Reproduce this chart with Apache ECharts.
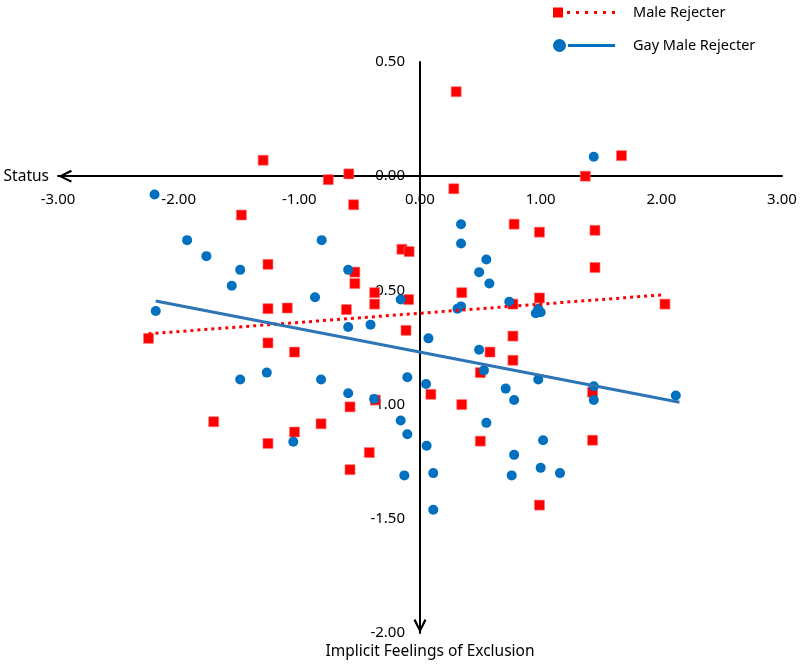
<!DOCTYPE html>
<html>
<head>
<meta charset="utf-8">
<script src="https://cdn.jsdelivr.net/npm/echarts@6/dist/echarts.min.js"></script>
<style>html,body{margin:0;padding:0;background:#fff}#c{width:800px;height:668px}</style>
</head>
<body>
<div id="c"></div>
<script>
// Male Rejecter points [x, y]
const maleRejecter = [
  [0.30,0.37],[-1.30,0.07],[1.67,0.09],[-0.59,0.01],[-0.76,-0.015],[1.37,0.00],[0.28,-0.055],[-0.55,-0.125],[-1.48,-0.17],
  [-1.26,-0.386],[-0.15,-0.32],[-0.09,-0.33],[-0.54,-0.42],[-0.54,-0.47],[-0.376,-0.51],[-0.376,-0.56],[-0.094,-0.54],
  [-1.26,-0.58],[-1.10,-0.577],[-0.61,-0.584],[-2.25,-0.71],[-0.116,-0.675],[-1.26,-0.73],[-1.04,-0.77],
  [0.78,-0.21],[0.99,-0.245],[1.45,-0.237],[1.45,-0.40],[0.346,-0.51],[0.99,-0.533],[0.77,-0.56],[2.03,-0.56],
  [0.77,-0.70],[0.58,-0.77],[0.77,-0.806],[0.50,-0.86],
  [-0.37,-0.98],[-0.58,-1.01],[-1.71,-1.075],[-0.82,-1.084],[-1.04,-1.12],[-1.26,-1.17],[-0.42,-1.21],[-0.58,-1.285],[0.09,-0.955],
  [0.346,-1.00],[1.43,-0.946],[0.50,-1.16],[1.43,-1.156],[0.99,-1.44]
];
// Gay Male Rejecter points [x, y]
const gayMaleRejecter = [
  [1.44,0.085],[-2.20,-0.08],
  [-1.93,-0.28],[-1.77,-0.35],[-1.49,-0.41],[-1.56,-0.48],[-0.815,-0.28],[-0.595,-0.41],[-0.87,-0.53],[-2.19,-0.59],
  [-0.595,-0.66],[-0.41,-0.65],[-0.16,-0.54],[0.07,-0.71],[-1.27,-0.86],[-1.49,-0.89],[-0.82,-0.89],[-0.105,-0.88],
  [0.34,-0.21],[0.34,-0.295],[0.55,-0.365],[0.49,-0.42],[0.575,-0.47],[0.74,-0.55],[0.34,-0.57],[0.31,-0.58],
  [0.98,-0.58],[0.96,-0.60],[1.00,-0.596],[0.49,-0.76],[0.53,-0.85],[0.98,-0.89],
  [-0.595,-0.95],[0.05,-0.91],[-0.38,-0.975],[-0.16,-1.07],[-0.105,-1.13],[0.055,-1.18],[-1.05,-1.163],[-0.13,-1.31],
  [0.71,-0.93],[0.78,-0.98],[1.44,-0.92],[1.44,-0.98],[2.12,-0.96],[0.55,-1.08],[1.02,-1.156],[0.78,-1.22],
  [0.11,-1.30],[1.00,-1.277],[0.76,-1.31],[1.16,-1.30],[0.11,-1.46]
];
// Linear trend line endpoints
const maleTrend = [[-2.25,-0.69],[2.00,-0.52]];
const gayTrend = [[-2.19,-0.546],[2.15,-0.99]];

const xTicks = {min:-3, max:3, interval:1};
const yTicks = {min:-2, max:0.5, interval:0.5};

const FONT = 'Noto Sans';
const W = 800, H = 668;
const grid = {left:58, right:18, top:62, bottom:35};
const plotW = W - grid.left - grid.right;
const plotH = H - grid.top - grid.bottom;
// move each axis so that it crosses the other at 0 (labels travel with the axis)
const xAxisOffset = -((0 - yTicks.min) / (yTicks.max - yTicks.min)) * plotH;
const yAxisOffset = -((0 - xTicks.min) / (xTicks.max - xTicks.min)) * plotW;

const chevron = 'path://M0,10 L5,0 L10,10 L8.5,10.9 L5,3.6 L1.5,10.9 Z';
const redIcon = 'path://M0,0 h10 v10 h-10 Z M14,3.5 h3 v3 h-3 Z M23,3.5 h3 v3 h-3 Z M32,3.5 h3 v3 h-3 Z M41,3.5 h3 v3 h-3 Z M50,3.5 h3 v3 h-3 Z M59,3.5 h3 v3 h-3 Z';
const blueIcon = 'path://M0,6.5 a6.5,6.5 0 1,0 13,0 a6.5,6.5 0 1,0 -13,0 Z M15,5 h47 v3 h-47 Z';

const chart = echarts.init(document.getElementById('c'), null, {renderer:'canvas'});
chart.setOption({
  animation:false,
  backgroundColor:'#fff',
  textStyle:{fontFamily:FONT},
  grid:Object.assign({outerBoundsMode:'none', containLabel:false}, grid),
  legend:{
    orient:'vertical', left:548, top:0, itemWidth:62, itemHeight:13, itemGap:18,
    textStyle:{fontFamily:FONT, fontSize:14.5, color:'#000', padding:[0,0,0,13]},
    data:[
      {name:'Male Rejecter', icon:redIcon, itemStyle:{color:'#FF0000', borderWidth:0}},
      {name:'Gay Male Rejecter', icon:blueIcon, itemStyle:{color:'#0070C0', borderWidth:0}}
    ]
  },
  xAxis:{
    type:'value', min:xTicks.min, max:xTicks.max, interval:xTicks.interval,
    position:'bottom', offset:xAxisOffset,
    name:'Status', nameLocation:'start', nameGap:9, nameMoveOverlap:false,
    nameTextStyle:{fontFamily:FONT, fontSize:15.5, color:'#000'},
    axisLine:{onZero:false, lineStyle:{color:'#000', width:2}, symbol:[chevron,'none'], symbolSize:[13,14], symbolOffset:[7,0]},
    axisTick:{show:false}, splitLine:{show:false},
    axisLabel:{fontFamily:FONT, fontSize:15, color:'#000', margin:16, formatter:v=>v.toFixed(2)}
  },
  yAxis:{
    type:'value', min:yTicks.min, max:yTicks.max, interval:yTicks.interval,
    position:'left', offset:yAxisOffset,
    name:'Implicit Feelings of Exclusion', nameLocation:'start', nameGap:11, nameMoveOverlap:false,
    nameTextStyle:{fontFamily:FONT, fontSize:15.5, color:'#000', padding:[0,0,0,20]},
    axisLine:{onZero:false, lineStyle:{color:'#000', width:2}, symbol:[chevron,'none'], symbolSize:[13,14], symbolOffset:[7,0]},
    axisTick:{show:false}, splitLine:{show:false},
    axisLabel:{fontFamily:FONT, fontSize:15, color:'#000', margin:15, formatter:v=>v.toFixed(2)}
  },
  series:[
    {name:'Male Rejecter', type:'scatter', data:maleRejecter, symbol:'rect', symbolSize:10,
      itemStyle:{color:'#FF0000', opacity:1, borderColor:'#FF7070', borderWidth:0.6}, z:2},
    {name:'Gay Male Rejecter', type:'scatter', data:gayMaleRejecter, symbol:'circle', symbolSize:10,
      itemStyle:{color:'#0070C0', opacity:1}, z:3},
    {name:'Male trend', type:'line', data:maleTrend, showSymbol:false, symbol:'none',
      lineStyle:{color:'#FF0000', width:3, type:[3,4]}, z:4},
    {name:'Gay trend', type:'line', data:gayTrend, showSymbol:false, symbol:'none',
      lineStyle:{color:'#2E75B6', width:3}, z:4}
  ]
});
</script>
</body>
</html>
